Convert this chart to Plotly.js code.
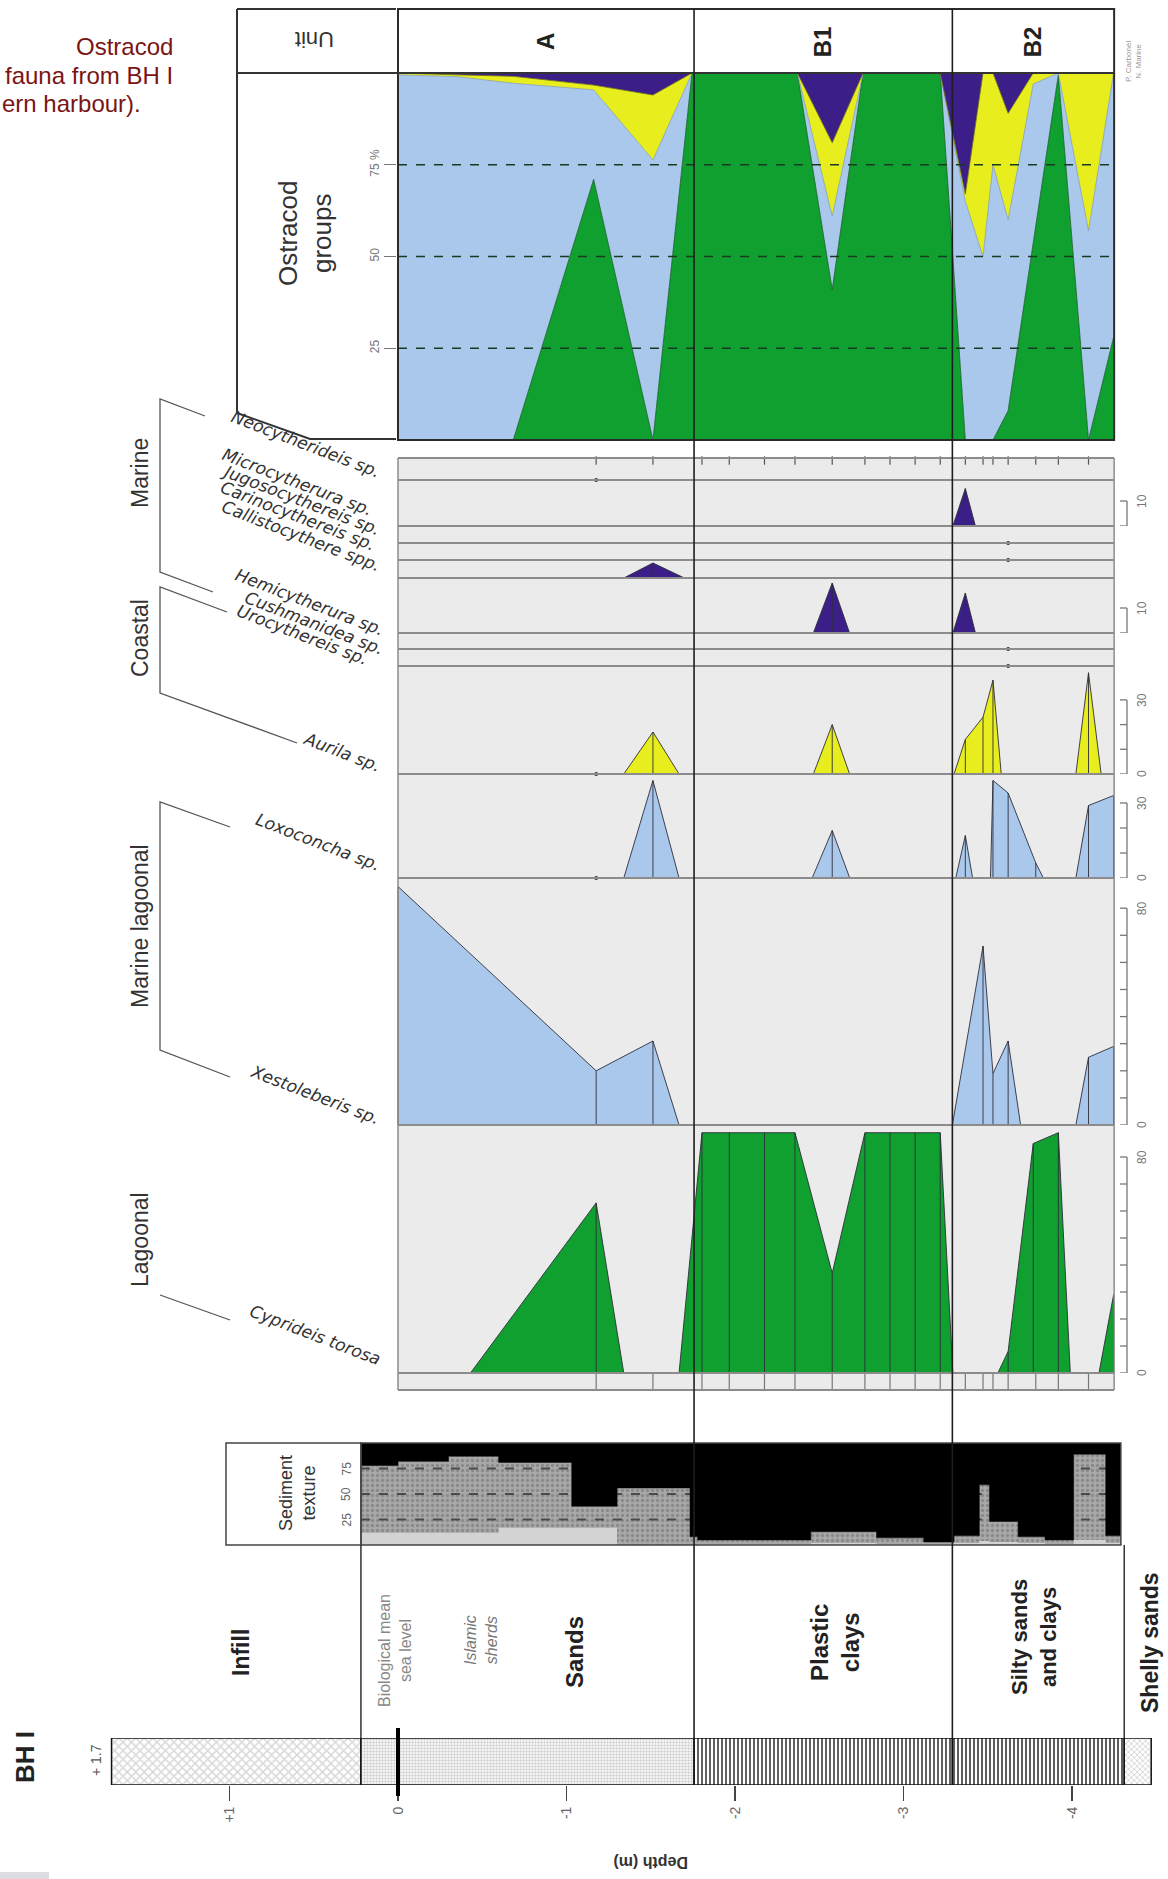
<!DOCTYPE html>
<html>
<head>
<meta charset="utf-8">
<script src="https://cdn.plot.ly/plotly-3.0.1.min.js"></script>
<style>
html,body{margin:0;padding:0;background:#ffffff;}
#chart{width:1168px;height:1879px;}
</style>
</head>
<body>
<div id="chart"></div>
<script>
// ======================= DATA (elevation in m a.s.l., values in %) =======================
const depthTickVals = [1, 0, -1, -2, -3, -4];
const depthTickText = ["+1", "0", "-1", "-2", "-3", "-4"];

const unitLabels = ["A", "B1", "B2"];
const unitBoundaries = [0, -1.757, -3.29, -4.25];

// Ostracod groups (stacked percentages)
const groupNames = ["Lagoonal", "Marine lagoonal", "Coastal", "Marine"];
const groupDepth = [0, -0.35, -0.684, -1.161, -1.513, -1.745, -2.37, -2.577, -2.76, -3.218, -3.367, -3.472, -3.531, -3.621, -3.77, -3.919, -4.098, -4.247];
const lagoonalPct = [0, 0, 0, 71, 0, 100, 100, 41, 100, 100, 0, 0, 0, 8, 54, 99.5, 0, 28];
const marineLagoonalPct = [99.5, 99, 97.2, 24.4, 76.3, 0, 0, 20, 0, 0, 65, 50, 75, 52, 43, 0.5, 57, 72];
const coastalPct = [0.5, 0.5, 1.9, 1.3, 17.7, 0, 0, 20, 0, 0, 2, 50, 25, 29, 3, 0, 43, 0];
const marinePct = [0, 0.5, 0.9, 3.3, 6, 0, 0, 19, 0, 0, 33, 0, 0, 11, 0, 0, 0, 0];

// Sample levels
const sampleDepth = [-1.176, -1.513, -1.804, -1.966, -2.175, -2.356, -2.577, -2.771, -2.920, -3.069, -3.218, -3.367, -3.472, -3.531, -3.621, -3.785, -3.919, -4.098];

// Species (values)
const speciesNames = ["Neocytherideis sp.", "Microcytherura sp.", "Jugosocythereis sp.", "Carinocythereis sp.", "Callistocythere spp.", "Hemicytherura sp.", "Cushmanidea sp.", "Urocythereis sp.", "Aurila sp.", "Loxoconcha sp.", "Xestoleberis sp.", "Cyprideis torosa"];
const microcytheruraDepth = [-3.293, -3.367, -3.427];
const microcytheruraVal = [0, 15, 0];
const callistocythereDepth = [-1.34, -1.513, -1.70];
const callistocythereVal = [0, 6, 0];
const hemicytheruraDepth = [-2.465, -2.577, -2.68, -3.293, -3.367, -3.427];
const hemicytheruraVal = [0, 20, 0, 0, 16, 0];
const aurilaDepth = [-1.34, -1.513, -1.668, -2.465, -2.577, -2.68, -3.30, -3.367, -3.472, -3.531, -3.58, -4.023, -4.098, -4.173];
const aurilaVal = [0, 17, 0, 0, 20, 0, 0, 14, 23, 38, 0, 0, 41, 0];
const loxoconchaDepth = [-1.34, -1.513, -1.668, -2.458, -2.577, -2.681, -3.31, -3.367, -3.41, -3.516, -3.531, -3.621, -3.785, -3.83, -4.023, -4.098, -4.247];
const loxoconchaVal = [0, 39, 0, 0, 19, 0, 0, 17, 0, 0, 39, 34, 6, 0, 0, 29, 33];
const xestoleberisDepth = [0, -1.176, -1.513, -1.668, -3.29, -3.472, -3.531, -3.621, -3.695, -4.023, -4.098, -4.247];
const xestoleberisVal = [88, 20, 31, 0, 0, 66, 19, 31, 0, 0, 25, 29];
const cyprideisDepth = [-0.43, -1.176, -1.34, -1.668, -1.804, -1.966, -2.175, -2.356, -2.577, -2.771, -2.920, -3.069, -3.218, -3.293, -3.56, -3.621, -3.770, -3.919, -3.99, -4.16, -4.247];
const cyprideisVal = [0, 63, 0, 0, 89, 89, 89, 89, 37, 89, 89, 89, 89, 0, 0, 8, 85, 89, 0, 0, 29];
// rare occurrences (present, not quantified)
const neocytherideisRare = [-1.176];
const jugosocythereisRare = [-3.621];
const carinocythereisRare = [-3.621];
const cushmanideaRare = [-3.621];
const urocythereisRare = [-3.621];
const aurilaRare = [-1.176];
const loxoconchaRare = [-1.176];

// Sediment texture (step edges, cumulative %)
const textureDepth = [0.22, 0.0, -0.30, -0.597, -1.031, -1.30, -1.733, -1.778, -2.45, -2.84, -3.12, -3.30, -3.45, -3.51, -3.68, -3.84, -4.01, -4.20, -4.29];
const siltSandPct = [78, 82, 87, 81, 38, 56, 8, 5, 13, 7, 3, 9, 59, 23, 8, 5, 89, 9];
const sandPct = [12, 12, 12, 17, 17, 0, 0, 1, 2, 1, 1, 2, 4, 3, 2, 1, 5, 2];
const textureTicks = [25, 50, 75];

// Lithology column
const lithoTop = [1.7, 0.22, -1.757, -3.29, -4.31];
const lithoBase = [0.22, -1.757, -3.29, -4.31, -4.47];
const lithoNames = ["Infill", "Sands", "Plastic<br>clays", "Silty sands<br>and clays", "Shelly sands"];

// ======================= LAYOUT HELPERS =======================
const W = 1168, H = 1879;
const PX = v => v / W, PY = v => 1 - v / H;
const E0PX = 398, PXPM = 168.5;
const xRange = [E0PX / PXPM, (E0PX - W) / PXPM];
const plotL = unitBoundaries[0], plotR = unitBoundaries[unitBoundaries.length - 1];

const fill = {lagoonal: '#10a030', marineLagoonal: '#a9c8ec', coastal: '#e8ee1e', marine: '#3b1e88'};
const edge = {lagoonal: '#0a5a1c', marineLagoonal: '#7f9cc0', coastal: '#6e6e0c', marine: '#1c0d4a'};
const FONT = 'Arial, "Liberation Sans", sans-serif';

const traces = [];
const shapes = [];
const annotations = [];
const layout = {
  width: W, height: H, margin: {l: 0, r: 0, t: 0, b: 0, pad: 0},
  paper_bgcolor: '#ffffff', plot_bgcolor: 'rgba(0,0,0,0)', showlegend: false, hovermode: false,
  font: {family: FONT, color: '#222'},
  barmode: 'overlay',
  xaxis: {domain: [0, 1], range: xRange, anchor: 'free', position: PY(1785), side: 'bottom',
    tickvals: depthTickVals, ticktext: depthTickText, ticks: 'outside', ticklen: 15, tickwidth: 1.6,
    tickcolor: '#444', tickangle: -90, tickfont: {size: 14, color: '#666'},
    showgrid: false, zeroline: false, showline: false, fixedrange: true},
  yaxis: {domain: [PY(440), PY(73)], range: [0, 100], anchor: 'free', position: PX(396), side: 'left',
    tickvals: [25, 50, 75], ticktext: ['25', '50', '75 %'], ticks: 'outside', ticklen: 12, tickwidth: 1,
    tickcolor: '#777', tickangle: -90, tickfont: {size: 12, color: '#777'},
    showgrid: false, zeroline: false, showline: false, fixedrange: true},
  yaxis2: {domain: [PY(1545), PY(1443)], range: [0, 100], visible: false, fixedrange: true},
  yaxis3: {domain: [PY(1785), PY(1738)], range: [-0.5, 0.5], visible: false, fixedrange: true},
  yaxis4: {domain: [PY(465), PY(456)], range: [0, 1], visible: false, fixedrange: true},
  yaxis5: {domain: [PY(1390), PY(1374)], range: [0, 1], visible: false, fixedrange: true},
  shapes: shapes, annotations: annotations
};

const ann = (text, x, y, o) => annotations.push(Object.assign({text: text, x: PX(x), y: PY(y), xref: 'paper', yref: 'paper', showarrow: false, xanchor: 'center', yanchor: 'middle'}, o || {}));
const pline = (pts, color, width) => shapes.push({type: 'path', xref: 'paper', yref: 'paper',
  path: pts.map((p, i) => (i ? 'L' : 'M') + PX(p[0]) + ',' + PY(p[1])).join(' '), line: {color: color, width: width}, layer: 'above'});

// ======================= OSTRACOD GROUPS (stacked) =======================
[['lagoonal', lagoonalPct], ['marineLagoonal', marineLagoonalPct], ['coastal', coastalPct], ['marine', marinePct]].forEach(([k, v], i) => {
  traces.push({type: 'scatter', name: groupNames[i], x: groupDepth, y: v, xaxis: 'x', yaxis: 'y', stackgroup: 'groups',
    mode: 'lines', line: {color: edge[k], width: 0.8}, fillcolor: fill[k], hoverinfo: 'skip'});
});
[25, 50, 75].forEach(v => shapes.push({type: 'line', xref: 'x', yref: 'y', x0: plotL, x1: plotR, y0: v, y1: v,
  line: {color: '#173a22', width: 1.6, dash: 'dash'}, layer: 'above'}));

// ======================= SPECIES ROWS =======================
const rowsCfg = [
  {top: 458, base: 480, ppu: 2.5, end: [386, 484], rare: neocytherideisRare},
  {top: 480, base: 526, ppu: 2.5, end: [378, 522], d: microcytheruraDepth, v: microcytheruraVal, c: 'marine', scale: [0, 10], lab: ['', '10']},
  {top: 526, base: 543, ppu: 2.5, end: [386, 542], rare: jugosocythereisRare},
  {top: 543, base: 560, ppu: 2.5, end: [381, 557], rare: carinocythereisRare},
  {top: 560, base: 578, ppu: 2.5, end: [386, 578], d: callistocythereDepth, v: callistocythereVal, c: 'marine'},
  {top: 578, base: 633, ppu: 2.5, end: [389, 642], d: hemicytheruraDepth, v: hemicytheruraVal, c: 'marine', scale: [0, 10], lab: ['', '10']},
  {top: 633, base: 649, ppu: 2.5, end: [389, 661], rare: cushmanideaRare},
  {top: 649, base: 666, ppu: 2.5, end: [374, 672], rare: urocythereisRare},
  {top: 666, base: 774, ppu: 2.47, end: [386, 778], d: aurilaDepth, v: aurilaVal, c: 'coastal', rare: aurilaRare, scale: [0, 10, 20, 30], lab: ['0', '30']},
  {top: 774, base: 878, ppu: 2.5, end: [386, 878], d: loxoconchaDepth, v: loxoconchaVal, c: 'marineLagoonal', rare: loxoconchaRare, scale: [0, 10, 20, 30], lab: ['0', '30']},
  {top: 878, base: 1125, ppu: 2.71, end: [386, 1131], d: xestoleberisDepth, v: xestoleberisVal, c: 'marineLagoonal', scale: [0, 10, 20, 30, 40, 50, 60, 70, 80], lab: ['0', '80']},
  {top: 1125, base: 1373, ppu: 2.70, end: [386, 1372], d: cyprideisDepth, v: cyprideisVal, c: 'lagoonal', scale: [0, 10, 20, 30, 40, 50, 60, 70, 80], lab: ['0', '80']}
];

shapes.push({type: 'rect', xref: 'x', yref: 'paper', x0: plotL, x1: plotR, y0: PY(1390), y1: PY(458),
  fillcolor: '#ebebeb', line: {width: 0}, layer: 'below'});

rowsCfg.forEach((r, i) => {
  const id = 6 + i, ax = 'y' + id;
  layout['yaxis' + id] = {domain: [PY(r.base), PY(r.top)], range: [0, (r.base - r.top) / r.ppu], visible: false, fixedrange: true};
  if (r.d) {
    traces.push({type: 'scatter', x: r.d, y: r.v, xaxis: 'x', yaxis: ax, mode: 'lines', fill: 'tozeroy',
      fillcolor: fill[r.c], line: {color: '#2e2e3a', width: 0.9}, hoverinfo: 'skip',
      error_y: {type: 'data', symmetric: false, array: r.v.map(() => 0), arrayminus: r.v, width: 0, thickness: 0.9, color: '#2e2e3a'}});
  }
  if (r.rare) {
    traces.push({type: 'scatter', x: r.rare, y: r.rare.map(() => 0), xaxis: 'x', yaxis: ax, mode: 'markers',
      marker: {size: 4, color: '#333'}, cliponaxis: false, hoverinfo: 'skip'});
  }
  shapes.push({type: 'line', xref: 'x', yref: 'paper', x0: plotL, x1: plotR, y0: PY(r.base), y1: PY(r.base),
    line: {color: '#8c8c8c', width: 2}, layer: 'above'});
  ann('<i>' + speciesNames[i] + '</i>', r.end[0], r.end[1], {xanchor: 'right', yanchor: 'bottom', textangle: 21,
    font: {family: '"DejaVu Sans", sans-serif', size: 17, color: '#333'}});
  if (r.scale) {
    const top = r.scale[r.scale.length - 1];
    shapes.push({type: 'line', xref: 'paper', yref: ax, x0: PX(1127), x1: PX(1127), y0: 0, y1: top, line: {color: '#777', width: 1.3}});
    r.scale.forEach(t => shapes.push({type: 'line', xref: 'paper', yref: ax, x0: PX(1120), x1: PX(1127), y0: t, y1: t, line: {color: '#777', width: 1.3}}));
    if (r.lab[1]) annotations.push({text: r.lab[1], x: PX(1142), y: top, xref: 'paper', yref: ax, xanchor: 'center', yanchor: 'middle', showarrow: false, textangle: -90, font: {size: 12, color: '#777'}});
    if (r.lab[0]) annotations.push({text: r.lab[0], x: PX(1142), y: 0, xref: 'paper', yref: ax, xanchor: 'center', yanchor: 'middle', showarrow: false, textangle: -90, font: {size: 12, color: '#777'}});
  }
});
[458, 1390].forEach(y => shapes.push({type: 'line', xref: 'x', yref: 'paper', x0: plotL, x1: plotR, y0: PY(y), y1: PY(y), line: {color: '#8c8c8c', width: 2}, layer: 'above'}));
[plotL, plotR].forEach(x => shapes.push({type: 'line', xref: 'x', yref: 'paper', x0: x, x1: x, y0: PY(458), y1: PY(1390), line: {color: '#8c8c8c', width: 1.5}, layer: 'above'}));
traces.push({type: 'scatter', x: sampleDepth, y: sampleDepth.map(() => 0.5), xaxis: 'x', yaxis: 'y4', mode: 'markers',
  marker: {symbol: 'line-ns', size: 6, line: {color: '#555', width: 1.2}}, cliponaxis: false, hoverinfo: 'skip'});
traces.push({type: 'scatter', x: sampleDepth, y: sampleDepth.map(() => 0.5), xaxis: 'x', yaxis: 'y5', mode: 'markers',
  marker: {symbol: 'line-ns', size: 12, line: {color: '#777', width: 1.2}}, cliponaxis: false, hoverinfo: 'skip'});

// ======================= SEDIMENT TEXTURE =======================
const stepY = a => a.concat([a[a.length - 1]]);
traces.push({type: 'scatter', x: textureDepth, y: stepY(siltSandPct), xaxis: 'x', yaxis: 'y2', mode: 'lines',
  line: {shape: 'hv', width: 0, color: '#999'}, fill: 'tozeroy', fillcolor: '#a5a5a5',
  fillpattern: {shape: '.', bgcolor: '#a8a8a8', fgcolor: '#8a8a8a', size: 5, solidity: 0.35}, hoverinfo: 'skip'});
traces.push({type: 'scatter', x: textureDepth, y: stepY(sandPct), xaxis: 'x', yaxis: 'y2', mode: 'lines',
  line: {shape: 'hv', width: 0, color: '#ccc'}, fill: 'tozeroy', fillcolor: '#d3d3d3', hoverinfo: 'skip'});
textureTicks.forEach(v => traces.push({type: 'scatter', x: [textureDepth[0], textureDepth[textureDepth.length - 1]], y: [v, v],
  xaxis: 'x', yaxis: 'y2', mode: 'lines', line: {color: '#4a4a4a', width: 1.8, dash: 'dash'}, hoverinfo: 'skip'}));
traces.push({type: 'scatter', x: textureDepth, y: stepY(siltSandPct), xaxis: 'x', yaxis: 'y2', mode: 'lines',
  line: {shape: 'hv', width: 0.6, color: '#000'}, hoverinfo: 'skip'});
traces.push({type: 'scatter', x: textureDepth, y: textureDepth.map(() => 100), xaxis: 'x', yaxis: 'y2', mode: 'lines',
  line: {shape: 'hv', width: 0, color: '#000'}, fill: 'tonexty', fillcolor: '#000000', hoverinfo: 'skip'});
shapes.push({type: 'rect', xref: 'paper', yref: 'paper', x0: PX(226), x1: PX(361), y0: PY(1545), y1: PY(1443), fillcolor: '#fff', line: {color: '#444', width: 1.5}});
shapes.push({type: 'rect', xref: 'x', yref: 'paper', x0: textureDepth[0], x1: textureDepth[textureDepth.length - 1], y0: PY(1545), y1: PY(1443), line: {color: '#444', width: 1.5}, layer: 'above'});
textureTicks.forEach(v => annotations.push({text: String(v), x: PX(346), y: v, xref: 'paper', yref: 'y2', xanchor: 'center', yanchor: 'middle', showarrow: false, textangle: -90, font: {size: 12, color: '#666'}}));
ann('Sediment<br>texture', 297, 1493, {textangle: -90, font: {size: 18, color: '#333'}});

// ======================= LITHOLOGY COLUMN =======================
traces.push({type: 'bar', orientation: 'h', x: lithoBase.map((b, i) => b - lithoTop[i]), base: lithoTop, y: lithoTop.map(() => 0),
  width: 1, xaxis: 'x', yaxis: 'y3', hoverinfo: 'skip',
  marker: {color: ['#d9d9d9', '#cfcfcf', '#505050', '#4c4c4c', '#cccccc'],
    pattern: {fillmode: 'replace', shape: ['x', '.', '|', '|', 'x'], bgcolor: ['#d9d9d9', '#cfcfcf', '#505050', '#4c4c4c', '#cccccc'],
      fgcolor: ['#111', '#555', '#000', '#000', '#444'], size: [6, 3, 4, 4, 4], solidity: [0.45, 0.5, 0.45, 0.45, 0.35]},
    line: {color: '#111', width: 1.5}}});
shapes.push({type: 'line', xref: 'x', yref: 'paper', x0: 0, x1: 0, y0: PY(1728), y1: PY(1796), line: {color: '#000', width: 4}, layer: 'above'});
[textureDepth[0], lithoTop[4]].forEach(x => shapes.push({type: 'line', xref: 'x', yref: 'paper', x0: x, x1: x, y0: PY(1545), y1: PY(1738), line: {color: '#333', width: 1.5}}));
const lithoLabelPos = [[241, 1653, 23], [574, 1652, 24], [835, 1643, 24], [1034, 1637, 22], [1150, 1643, 23]];
lithoNames.forEach((t, i) => ann('<b>' + t + '</b>', lithoLabelPos[i][0], lithoLabelPos[i][1], {textangle: -90, font: {size: lithoLabelPos[i][2], color: '#222'}}));
ann('Biological mean<br>sea level', 395, 1651, {textangle: -90, font: {size: 16, color: '#888'}});
ann('<i>Islamic<br>sherds</i>', 481, 1640, {textangle: -90, font: {size: 16, color: '#777'}});
ann('<b>BH I</b>', 25, 1757, {textangle: -90, font: {size: 26, color: '#222'}});
ann('+ 1.7', 96, 1760, {textangle: -90, font: {size: 14, color: '#555'}});
ann('<b>Depth (m)</b>', 651, 1863, {textangle: 180, font: {size: 16, color: '#333'}});

// ======================= HEADER / UNITS =======================
shapes.push({type: 'rect', xref: 'x', yref: 'paper', x0: plotL, x1: plotR, y0: PY(440), y1: PY(9), line: {color: '#2b2b2b', width: 2}, layer: 'above'});
pline([[237, 9], [396, 9]], '#333', 2);
pline([[237, 73], [1114, 73]], '#333', 2);
pline([[237, 9], [237, 413], [310, 439], [396, 439]], '#333', 2);
[unitBoundaries[1], unitBoundaries[2]].forEach(x => shapes.push({type: 'line', xref: 'x', yref: 'paper', x0: x, x1: x, y0: PY(9), y1: PY(1738), line: {color: '#1e1e1e', width: 1.6}, layer: 'above'}));
unitLabels.forEach((u, i) => annotations.push({text: '<b>' + u + '</b>', x: (unitBoundaries[i] + unitBoundaries[i + 1]) / 2, y: PY(42), xref: 'x', yref: 'paper', xanchor: 'center', yanchor: 'middle', showarrow: false, textangle: -90, font: {size: 24, color: '#222'}}));
ann('Unit', 315, 40, {textangle: 180, font: {size: 22, color: '#333'}});
ann('Ostracod<br>groups', 305, 233, {textangle: -90, font: {size: 26, color: '#333'}});
ann('P. Carbonel<br>N. Marine', 1134, 62, {textangle: -90, font: {size: 8, color: '#999'}});

pline([[205, 416], [160, 399], [160, 572], [213, 592]], '#555', 1.3);
pline([[227, 612], [160, 587], [160, 693], [297, 743]], '#555', 1.3);
pline([[230, 827], [160, 802], [160, 1050], [230, 1077]], '#555', 1.3);
pline([[160, 1295], [230, 1320]], '#555', 1.3);
const groupLabelPos = [[140, 1240], [140, 926], [140, 638], [140, 473]];
groupNames.forEach((g, i) => ann(g, groupLabelPos[i][0], groupLabelPos[i][1], {textangle: -90, font: {size: 23, color: '#333'}}));

ann('Ostracod', 175, 46, {xanchor: 'right', font: {size: 24, color: '#7a1414'}});
ann('fauna from BH I', 175, 75, {xanchor: 'right', font: {size: 24, color: '#7a1414'}});
ann('ern harbour).', 0, 103, {xanchor: 'left', font: {size: 24, color: '#7a1414'}});
shapes.push({type: 'rect', xref: 'paper', yref: 'paper', x0: 0, x1: PX(49), y0: 0, y1: PY(1872), fillcolor: '#dcdce2', line: {width: 0}});

Plotly.newPlot('chart', traces, layout, {staticPlot: true, displayModeBar: false});
</script>
</body>
</html>
